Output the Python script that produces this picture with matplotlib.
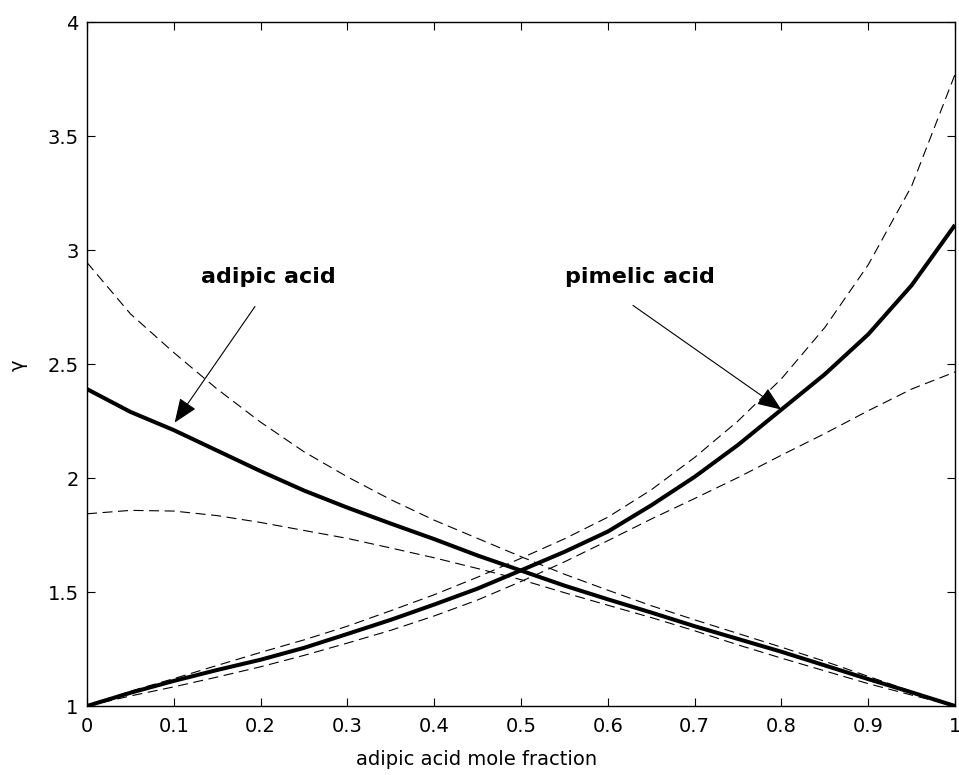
import matplotlib
matplotlib.use("Agg")
import matplotlib.pyplot as plt
import numpy as np

plt.rcParams['font.family'] = ['DejaVu Sans']

# adipic acid mole fraction grid
x = [0.0, 0.05, 0.1, 0.15, 0.2, 0.25, 0.3, 0.35, 0.4, 0.45, 0.5,
     0.55, 0.6, 0.65, 0.7, 0.75, 0.8, 0.85, 0.9, 0.95, 1.0]

# activity coefficients (solid = model, dashed = bounds)
adipic_solid = [2.39, 2.29, 2.21, 2.12, 2.03, 1.945, 1.87, 1.80, 1.732, 1.66, 1.594,
                1.528, 1.468, 1.41, 1.35, 1.294, 1.238, 1.178, 1.118, 1.06, 1.0]
adipic_upper = [2.945, 2.72, 2.55, 2.39, 2.245, 2.115, 2.005, 1.905, 1.815, 1.735, 1.655,
                1.578, 1.508, 1.44, 1.378, 1.318, 1.258, 1.196, 1.13, 1.064, 1.0]
adipic_lower = [1.843, 1.858, 1.855, 1.835, 1.805, 1.77, 1.735, 1.693, 1.65, 1.603, 1.554,
                1.497, 1.442, 1.388, 1.33, 1.268, 1.21, 1.154, 1.098, 1.048, 1.0]
pimelic_solid = [1.0, 1.058, 1.11, 1.158, 1.203, 1.255, 1.316, 1.378, 1.445, 1.515, 1.595,
                 1.676, 1.765, 1.88, 2.005, 2.145, 2.30, 2.455, 2.63, 2.845, 3.11]
pimelic_upper = [1.0, 1.065, 1.12, 1.178, 1.235, 1.29, 1.35, 1.418, 1.488, 1.565, 1.648,
                 1.733, 1.828, 1.948, 2.09, 2.25, 2.435, 2.66, 2.935, 3.28, 3.77]
pimelic_lower = [1.0, 1.044, 1.084, 1.127, 1.172, 1.222, 1.276, 1.332, 1.395, 1.465, 1.546,
                 1.632, 1.725, 1.82, 1.91, 2.002, 2.10, 2.195, 2.295, 2.39, 2.465]

xticks = [0, 0.1, 0.2, 0.3, 0.4, 0.5, 0.6, 0.7, 0.8, 0.9, 1]
xticklabels = ['0', '0.1', '0.2', '0.3', '0.4', '0.5', '0.6', '0.7', '0.8', '0.9', '1']
yticks = [1, 1.5, 2, 2.5, 3, 3.5, 4]
yticklabels = ['1', '1.5', '2', '2.5', '3', '3.5', '4']

W, H = 959, 775
fig = plt.figure(figsize=(W / 100, H / 100), dpi=100)
ax = fig.add_axes([87 / W, (H - 706) / H, 868 / W, 684 / H])

dash = (0, (9, 5))
for series in (adipic_upper, adipic_lower, pimelic_upper, pimelic_lower):
    ax.plot(x, series, color='k', lw=0.8, linestyle=dash)
for series in (adipic_solid, pimelic_solid):
    ax.plot(x, series, color='k', lw=2.9, solid_capstyle='butt', solid_joinstyle='round')

ax.set_xlim(0, 1)
ax.set_ylim(1, 4)
ax.set_xticks(xticks)
ax.set_xticklabels(xticklabels)
ax.set_yticks(yticks)
ax.set_yticklabels(yticklabels)
ax.tick_params(direction='in', length=6, width=0.8, top=True, right=True,
               labelsize=14, colors='k')
ax.tick_params(axis='x', pad=8)
ax.tick_params(axis='y', pad=6)
for s in ax.spines.values():
    s.set_linewidth(1.0)

ax.set_xlabel('adipic acid mole fraction', fontsize=14)
ax.xaxis.set_label_coords(0.449, -0.064)
fig.text(18 / W, 1 - 365 / H, 'γ', fontsize=14, rotation=90, ha='center', va='center')

arrow = dict(arrowstyle='-|>,head_length=1.5,head_width=0.6', mutation_scale=10,
             lw=0.8, color='k', shrinkA=0, shrinkB=0)
ax.text(0.2085, 2.88, 'adipic acid', fontsize=16, fontweight='bold', ha='center', va='center')
ax.annotate('', xy=(0.101, 2.243), xytext=(0.1935, 2.752), arrowprops=arrow)
ax.text(0.637, 2.88, 'pimelic acid', fontsize=16, fontweight='bold', ha='center', va='center')
ax.annotate('', xy=(0.80, 2.30), xytext=(0.629, 2.757), arrowprops=arrow)

fig.savefig('out.png', dpi=100)
